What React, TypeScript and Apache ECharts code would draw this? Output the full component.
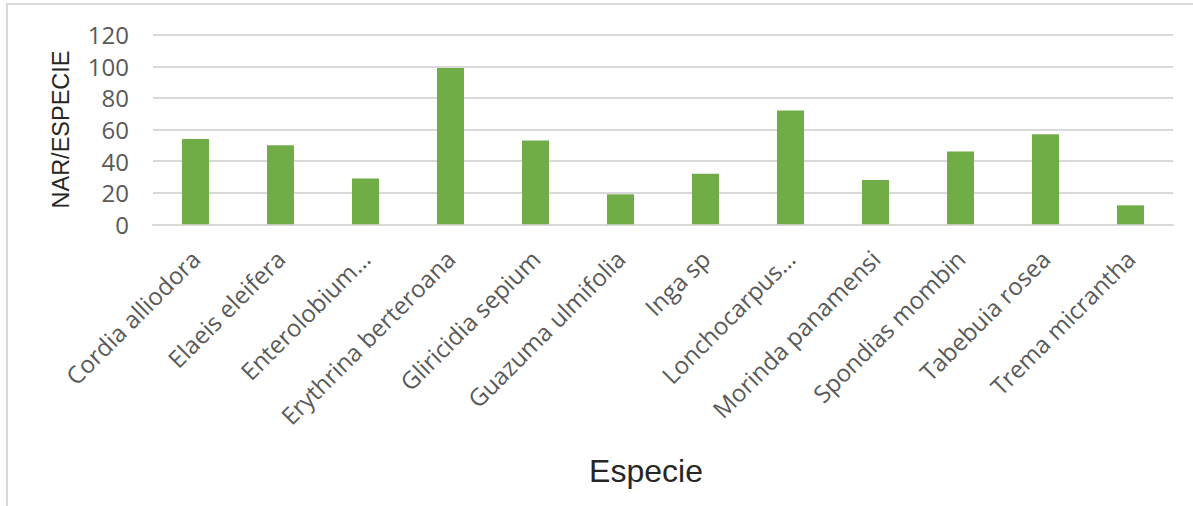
import React, { useEffect, useRef } from "react";
import * as echarts from "echarts";

const especies = [
  "Cordia alliodora",
  "Elaeis eleifera",
  "Enterolobium…",
  "Erythrina berteroana",
  "Gliricidia sepium",
  "Guazuma ulmifolia",
  "Inga sp",
  "Lonchocarpus…",
  "Morinda panamensi",
  "Spondias mombin",
  "Tabebuia rosea",
  "Trema micrantha",
];

const narPorEspecie = [54, 50, 29, 99, 53, 19, 32, 72, 28, 46, 57, 12];

const yMin = 0;
const yMax = 120;
const yStep = 20;

const yAxisTitle = "NAR/ESPECIE";
const xAxisTitle = "Especie";

export default function App() {
  const ref = useRef<HTMLDivElement>(null);

  useEffect(() => {
    if (!ref.current) return;
    const chart = echarts.init(ref.current, null, { renderer: "svg" });
    chart.setOption({
      animation: false,
      backgroundColor: "#ffffff",
      grid: { left: 153, right: 20, top: 34.7, bottom: 281.7, containLabel: false },
      xAxis: {
        type: "category",
        data: especies,
        axisLine: { show: true, lineStyle: { color: "#d9d9d9", width: 2 } },
        axisTick: { show: false },
        axisLabel: {
          rotate: 45,
          interval: 0,
          margin: 30,
          color: "#595959",
          fontFamily: "Open Sans",
          fontSize: 24,
        },
      },
      yAxis: {
        type: "value",
        min: yMin,
        max: yMax,
        interval: yStep,
        name: yAxisTitle,
        nameLocation: "middle",
        nameGap: 80,
        nameTextStyle: {
          color: "#262626",
          fontFamily: "Liberation Sans",
          fontSize: 23.5,
        },
        axisLine: { show: false },
        axisTick: { show: false },
        axisLabel: {
          margin: 24,
          color: "#595959",
          fontFamily: "Open Sans",
          fontSize: 24,
        },
        splitLine: { lineStyle: { color: "#d9d9d9", width: 2 } },
      },
      series: [
        {
          type: "bar",
          data: narPorEspecie,
          barWidth: 27,
          itemStyle: { color: "#70ad47" },
        },
      ],
      graphic: [
        {
          type: "rect",
          shape: { x: 7, y: 4, width: 1400, height: 700 },
          style: { fill: "none", stroke: "#d9d9d9", lineWidth: 2 },
          silent: true,
          z: -1,
        },
        {
          type: "text",
          x: 646,
          y: 471,
          style: {
            text: xAxisTitle,
            fill: "#262626",
            font: '32px "Liberation Sans"',
            textAlign: "center",
            textVerticalAlign: "middle",
          },
        },
      ],
    });
    return () => chart.dispose();
  }, []);

  return (
    <div
      ref={ref}
      style={{ position: "fixed", left: 0, top: 0, width: 1193, height: 506 }}
    />
  );
}
